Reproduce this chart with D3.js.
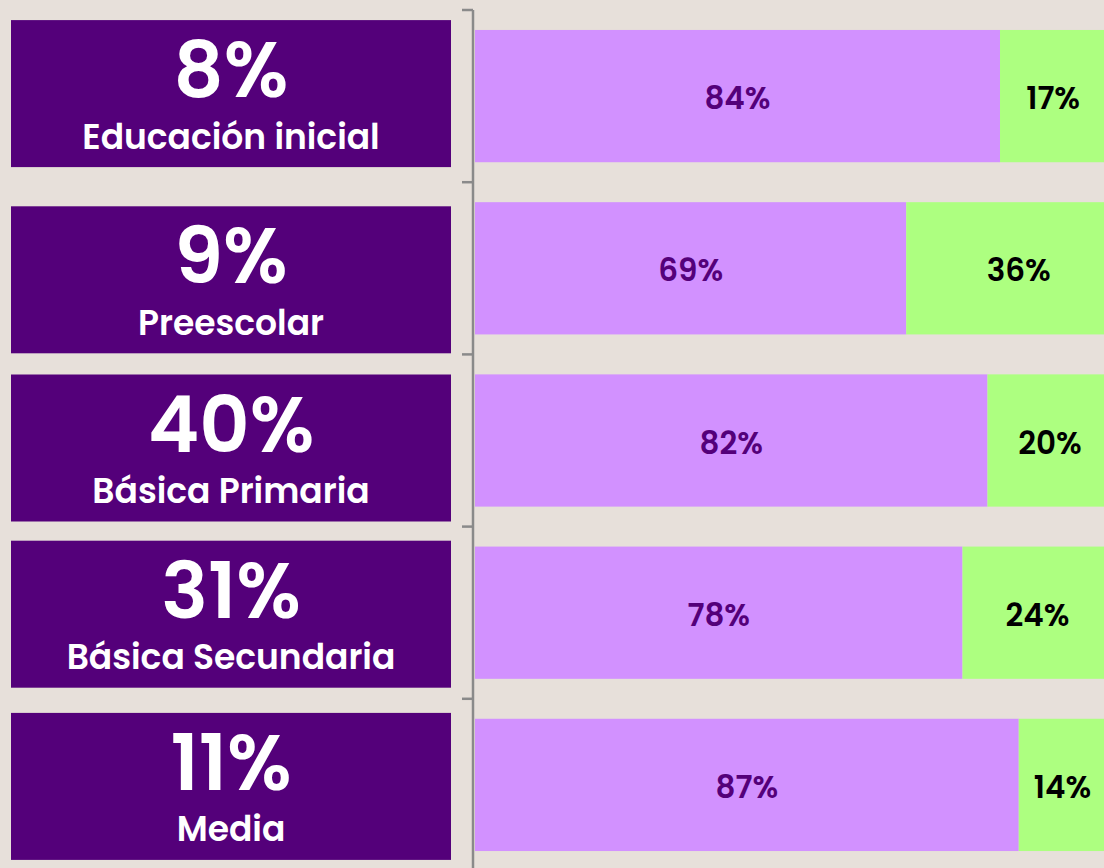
<!DOCTYPE html>
<html><head><meta charset="utf-8">
<script src="https://cdn.jsdelivr.net/npm/d3@7"></script>
<style>
html,body{margin:0;padding:0;background:#e7e0da;overflow:hidden}
svg{display:block}
text{font-family:Poppins,"Lato","Inter",sans-serif;font-weight:600}
</style></head><body>
<script>
const categories = ["Educación inicial","Preescolar","Básica Primaria","Básica Secundaria","Media"];
const shares = [8, 9, 40, 31, 11];
const seriesA = [84, 69, 82, 78, 87];
const seriesB = [17, 36, 20, 24, 14];

const W = 1104, H = 868;
const svg = d3.select("body").append("svg").attr("width", W).attr("height", H);

const y = d3.scaleBand().domain(categories).range([10, 871]).paddingInner(0.232).paddingOuter(0.116);
const x = d3.scaleLinear().domain([0, 100]).range([475, 1100]);

// axis
const axisG = svg.append("g").attr("transform", "translate(473,0)");
axisG.append("line").attr("x1",0).attr("x2",0).attr("y1",10).attr("y2",H).attr("stroke","#8a8a8a").attr("stroke-width",2.5);
axisG.selectAll("line.tick").data(categories).join("line").attr("class","tick")
  .attr("x1",-11).attr("x2",0)
  .attr("y1", c => y(c) - (y.step()-y.bandwidth())/2)
  .attr("y2", c => y(c) - (y.step()-y.bandwidth())/2)
  .attr("stroke","#8a8a8a").attr("stroke-width",2.5);

const g = svg.append("g");
const rows = g.selectAll("g.row").data(categories).join("g").attr("class","row");

rows.append("rect").attr("x", x(0)).attr("y", c => y(c)).attr("height", y.bandwidth())
  .attr("width", (c,i) => x(seriesA[i]) - x(0)).attr("fill", "#d291ff");
rows.append("rect").attr("x", (c,i) => x(seriesA[i])).attr("y", c => y(c)).attr("height", y.bandwidth())
  .attr("width", (c,i) => x(seriesA[i] + seriesB[i]) - x(seriesA[i])).attr("fill", "#adff80");

rows.append("text").attr("x", (c,i) => (x(0) + x(seriesA[i]))/2).attr("y", c => y(c) + y.bandwidth()/2 + 2)
  .attr("text-anchor","middle").attr("dominant-baseline","central").attr("font-size",31).attr("fill","#54007a")
  .text((c,i) => seriesA[i] + "%");
rows.append("text").attr("x", (c,i) => (x(seriesA[i]) + x(seriesA[i]+seriesB[i]))/2).attr("y", c => y(c) + y.bandwidth()/2 + 2)
  .attr("text-anchor","middle").attr("dominant-baseline","central").attr("font-size",31).attr("fill","#000")
  .text((c,i) => seriesB[i] + "%");

// left label boxes
const boxShift = [-2.5, 11.5, 7.5, 1.5, 1.5];
const boxH = 147;
const boxes = g.selectAll("g.box").data(categories).join("g").attr("class","box")
  .attr("transform", (c,i) => `translate(11,${y(c) + y.bandwidth()/2 + boxShift[i] - boxH/2})`);
boxes.append("rect").attr("width", 440).attr("height", boxH).attr("fill", "#54007a");
boxes.append("text").attr("x", 220).attr("y", 77).attr("text-anchor","middle").attr("font-size",78).attr("fill","#fff")
  .text((c,i) => shares[i] + "%");
boxes.append("text").attr("x", 220).attr("y", 128.5).attr("text-anchor","middle").attr("font-size",34.5).attr("fill","#fff")
  .text(c => c);
</script>
</body></html>
